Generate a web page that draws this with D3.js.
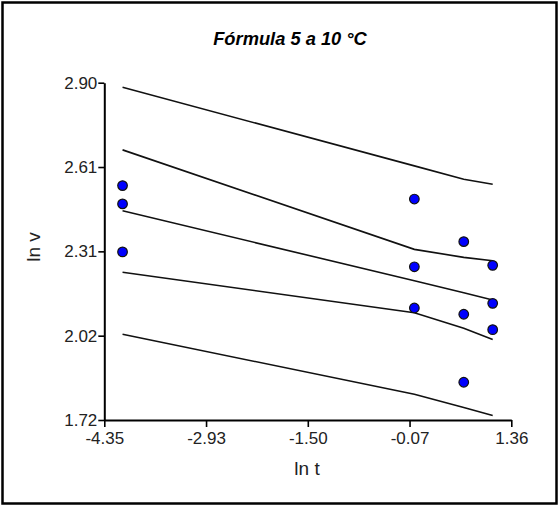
<!DOCTYPE html>
<html>
<head>
<meta charset="utf-8">
<script src="https://cdn.jsdelivr.net/npm/d3@7"></script>
<style>
  body { margin: 0; background: #fff; }
  svg { display: block; font-family: "Liberation Sans", Arial, sans-serif; }
</style>
</head>
<body>
<div id="chart"></div>
<script>
// ln t of the measured times (1 min, 1 h, 2 h, 3 h)
var lnT = [-4.094, 0, 0.693, 1.099];

// observed ln v, three replicates per time
var pointsX = [-4.094, -4.094, -4.094, 0, 0, 0, 0.693, 0.693, 0.693, 1.099, 1.099, 1.099];
var pointsY = [2.540, 2.476, 2.308, 2.493, 2.256, 2.112, 2.344, 2.090, 1.852, 2.261, 2.128, 2.036];

// fitted line with confidence and prediction bands, one value per lnT
var predUpper = [2.884, 2.609, 2.562, 2.545];
var confUpper = [2.665, 2.317, 2.289, 2.277];
var fitLine   = [2.452, 2.207, 2.165, 2.140];
var confLower = [2.237, 2.095, 2.041, 2.002];
var predLower = [2.020, 1.810, 1.764, 1.736];

var xTickVals = [-4.35, -2.9225, -1.495, -0.0675, 1.36];
var xTickLabels = ['-4.35', '-2.93', '-1.50', '-0.07', '1.36'];
var yTickVals = [1.72, 2.015, 2.31, 2.605, 2.90];
var yTickLabels = ['1.72', '2.02', '2.31', '2.61', '2.90'];

var width = 559, height = 506;

var svg = d3.select('#chart').append('svg')
  .attr('width', width)
  .attr('height', height);

// outer frame
svg.append('rect')
  .attr('x', 2.5).attr('y', 2.5)
  .attr('width', width - 5).attr('height', height - 5)
  .attr('fill', 'none')
  .attr('stroke', '#000')
  .attr('stroke-width', 2.5);

var x = d3.scaleLinear().domain([-4.35, 1.36]).range([104.3, 511.3]);
var y = d3.scaleLinear().domain([1.72, 2.90]).range([420, 82.7]);

svg.append('text')
  .attr('x', 290).attr('y', 45)
  .attr('text-anchor', 'middle')
  .style('font-size', '18.3px')
  .style('font-weight', 'bold')
  .style('font-style', 'italic')
  .text('Fórmula 5 a 10 °C');

var xAxis = d3.axisBottom(x)
  .tickValues(xTickVals)
  .tickFormat(function(d, i) { return xTickLabels[i]; })
  .tickSize(7)
  .tickSizeOuter(0)
  .tickPadding(5);

var yAxis = d3.axisLeft(y)
  .tickValues(yTickVals)
  .tickFormat(function(d, i) { return yTickLabels[i]; })
  .tickSize(6)
  .tickSizeOuter(0)
  .tickPadding(1);

function styleAxis(g) {
  g.select('.domain').attr('stroke', '#000').attr('stroke-width', 2);
  g.selectAll('.tick line').attr('stroke', '#000').attr('stroke-width', 1.6);
  g.selectAll('.tick text')
    .attr('fill', '#222')
    .style('font-size', '17px')
    .style('font-family', '"Liberation Sans", Arial, sans-serif');
}

svg.append('g')
  .attr('transform', 'translate(0,420)')
  .call(xAxis)
  .call(styleAxis);

svg.append('g')
  .attr('transform', 'translate(104.3,0)')
  .call(yAxis)
  .call(styleAxis);

svg.append('text')
  .attr('x', 307).attr('y', 475)
  .attr('text-anchor', 'middle')
  .style('font-size', '19px')
  .attr('fill', '#222')
  .text('ln t');

svg.append('text')
  .attr('transform', 'translate(40,247) rotate(-90)')
  .attr('text-anchor', 'middle')
  .style('font-size', '19px')
  .attr('fill', '#222')
  .text('ln v');

var line = d3.line()
  .x(function(d) { return x(d[0]); })
  .y(function(d) { return y(d[1]); });

[predUpper, confUpper, fitLine, confLower, predLower].forEach(function(series) {
  svg.append('path')
    .datum(lnT.map(function(t, i) { return [t, series[i]]; }))
    .attr('d', line)
    .attr('fill', 'none')
    .attr('stroke', '#111')
    .attr('stroke-width', 1.6);
});

svg.append('g').selectAll('circle')
  .data(pointsX.map(function(t, i) { return [t, pointsY[i]]; }))
  .enter().append('circle')
    .attr('cx', function(d) { return x(d[0]); })
    .attr('cy', function(d) { return y(d[1]); })
    .attr('r', 4.8)
    .attr('fill', '#0000ff')
    .attr('stroke', '#111')
    .attr('stroke-width', 1.2);
</script>
</body>
</html>
